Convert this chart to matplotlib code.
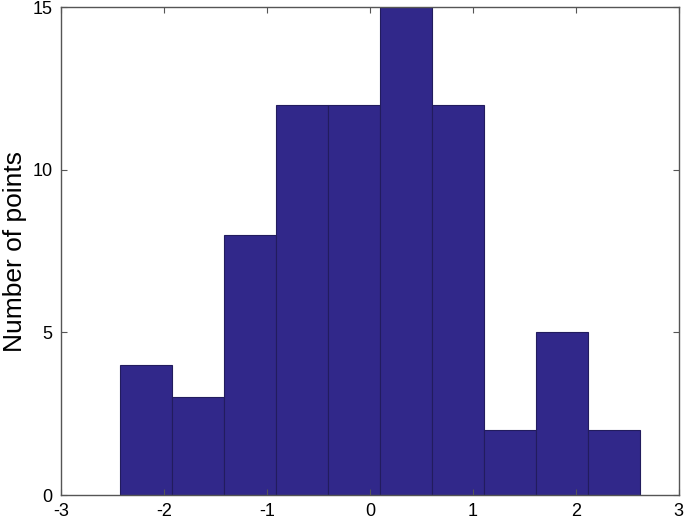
import matplotlib
matplotlib.use("Agg")
import matplotlib.pyplot as plt
import numpy as np

bin_edges = [-2.43, -1.925, -1.42, -0.915, -0.41, 0.095, 0.60, 1.105, 1.61, 2.115, 2.62]
counts = [4, 3, 8, 12, 12, 15, 12, 2, 5, 2]
xticks = [-3, -2, -1, 0, 1, 2, 3]
yticks = [0, 5, 10, 15]

plt.rcParams['font.family'] = ['Liberation Sans', 'DejaVu Sans']
plt.rcParams['axes.unicode_minus'] = False

fig = plt.figure(figsize=(6.85, 5.2), dpi=100)
ax = fig.add_axes([0.089, 0.048, 0.902, 0.9385])

edges = np.array(bin_edges)
ax.bar(edges[:-1], counts, width=np.diff(edges), align='edge',
       color='#31288a', edgecolor='#221c5e', linewidth=0.8)

ax.set_xlim(-3, 3)
ax.set_ylim(0, 15)
ax.set_xticks(xticks)
ax.set_yticks(yticks)
ax.tick_params(direction='in', top=True, right=True, length=4, width=0.8,
               labelsize=13, color='#555555', pad=6)
for s in ax.spines.values():
    s.set_color('#555555')
    s.set_linewidth(1.0)
ax.set_ylabel('Number of points', fontsize=19, labelpad=4)

fig.savefig('out.png', dpi=100)
